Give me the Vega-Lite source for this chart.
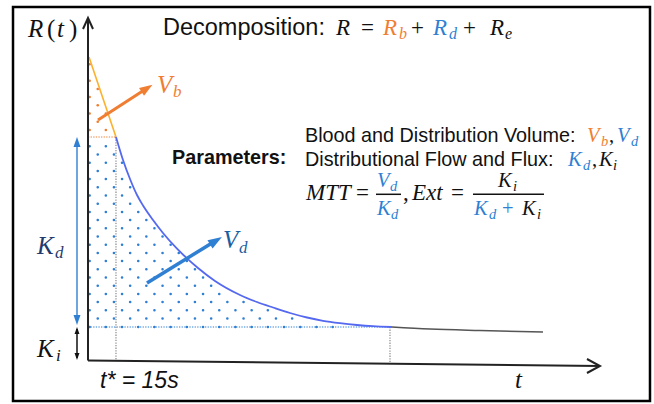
{
  "$schema": "https://vega.github.io/schema/vega-lite/v6.json",
  "width": 654,
  "height": 404,
  "autosize": {"type": "fit", "contains": "padding"},
  "padding": 0,
  "background": "white",
  "config": {"view": {"stroke": null}},
  "datasets": {
    "frame": [{"t": -39.16, "t2": 295.89, "R": 88.5, "R2": -10.0}],
    "dots": [
      {"R": 74.175, "t": 1.128, "t2": 1.6, "part": "blood"},
      {"R": 70.075, "t": 1.128, "t2": 4.49, "part": "blood"},
      {"R": 68.025, "t": 5.388, "t2": 5.97, "part": "blood"},
      {"R": 65.975, "t": 1.128, "t2": 7.39, "part": "blood"},
      {"R": 63.925, "t": 5.388, "t2": 8.86, "part": "blood"},
      {"R": 61.875, "t": 1.128, "t2": 10.33, "part": "blood"},
      {"R": 59.825, "t": 5.388, "t2": 11.75, "part": "blood"},
      {"R": 57.775, "t": 1.128, "t2": 13.22, "part": "blood"},
      {"R": 53.675, "t": 1.128, "t2": 15.96, "part": "dist"},
      {"R": 51.625, "t": 5.388, "t2": 17.27, "part": "dist"},
      {"R": 49.575, "t": 1.128, "t2": 18.75, "part": "dist"},
      {"R": 47.525, "t": 5.388, "t2": 20.27, "part": "dist"},
      {"R": 45.475, "t": 1.128, "t2": 21.85, "part": "dist"},
      {"R": 43.425, "t": 5.388, "t2": 23.69, "part": "dist"},
      {"R": 41.375, "t": 1.128, "t2": 25.53, "part": "dist"},
      {"R": 39.325, "t": 5.388, "t2": 28.16, "part": "dist"},
      {"R": 37.275, "t": 1.128, "t2": 31.11, "part": "dist"},
      {"R": 35.225, "t": 5.388, "t2": 34.0, "part": "dist"},
      {"R": 33.175, "t": 1.128, "t2": 37.32, "part": "dist"},
      {"R": 31.125, "t": 5.388, "t2": 41.05, "part": "dist"},
      {"R": 29.075, "t": 1.128, "t2": 45.36, "part": "dist"},
      {"R": 27.025, "t": 5.388, "t2": 49.41, "part": "dist"},
      {"R": 24.975, "t": 1.128, "t2": 53.62, "part": "dist"},
      {"R": 22.925, "t": 5.388, "t2": 58.51, "part": "dist"},
      {"R": 20.875, "t": 1.128, "t2": 64.14, "part": "dist"},
      {"R": 18.825, "t": 5.388, "t2": 70.98, "part": "dist"},
      {"R": 16.775, "t": 1.128, "t2": 74.98, "part": "dist"},
      {"R": 14.725, "t": 5.388, "t2": 85.5, "part": "dist"},
      {"R": 12.675, "t": 1.128, "t2": 99.17, "part": "dist"},
      {"R": 10.625, "t": 5.388, "t2": 111.79, "part": "dist"},
      {"R": 8.5, "t": 1.128, "t2": 132.83, "part": "dist"}
    ],
    "guides": [
      {"t": 0.29, "t2": 15.0, "R": 56.0, "R2": 56.0, "part": "blood"},
      {"t": 0.29, "t2": 160.18, "R": 8.5, "R2": 8.5, "part": "dist"},
      {"t": 15.0, "t2": 15.0, "R": 56.0, "R2": 0.125, "part": "grey"},
      {"t": 159.13, "t2": 159.13, "R": 8.5, "R2": -0.75, "part": "grey"}
    ],
    "shafts": [
      {"t": -5.5, "t2": -5.5, "R": 54.0, "R2": 11.0, "part": "dist", "kind": "Kd"},
      {"t": -5.5, "t2": -5.5, "R": 8.0, "R2": 0.75, "part": "black", "kind": "Ki"},
      {"t": 5.546, "t2": 30.27, "R": 60.25, "R2": 67.875, "part": "blood", "kind": "Vb"},
      {"t": 31.32, "t2": 65.51, "R": 19.5, "R2": 29.5, "part": "dist", "kind": "Vd"}
    ],
    "heads": [
      {"t": -5.5, "R": 54.75, "dir": 0, "kind": "Kd", "part": "dist"},
      {"t": -5.5, "R": 10.25, "dir": 180, "kind": "Kd", "part": "dist"},
      {"t": -5.5, "R": 7.625, "dir": 0, "kind": "Ki", "part": "black"},
      {"t": -5.5, "R": 1.125, "dir": 180, "kind": "Ki", "part": "black"},
      {"t": 31.32, "R": 68.175, "dir": 57, "kind": "Vb", "part": "blood"},
      {"t": 67.61, "R": 30.075, "dir": 58.5, "kind": "Vd", "part": "dist"}
    ],
    "axes": [
      {"path": "yaxis", "i": 0, "t": 0.29, "R": 0.125},
      {"path": "yaxis", "i": 1, "t": 0.29, "R": 85.75},
      {"path": "xaxis", "i": 0, "t": 0.29, "R": 0.125},
      {"path": "xaxis", "i": 1, "t": 269.59, "R": -1.25},
      {"path": "yhead", "i": 0, "t": -2.34, "R": 83.0},
      {"path": "yhead", "i": 1, "t": 0.29, "R": 85.75},
      {"path": "yhead", "i": 2, "t": 2.92, "R": 83.0},
      {"path": "xhead", "i": 0, "t": 262.75, "R": 0.5},
      {"path": "xhead", "i": 1, "t": 269.59, "R": -1.25},
      {"path": "xhead", "i": 2, "t": 262.75, "R": -3.0}
    ],
    "curve": [
      {"seg": "blood", "t": 0.81, "R": 76.0},
      {"seg": "blood", "t": 15.01, "R": 56.0},
      {"seg": "dist", "t": 15.01, "R": 56.0},
      {"seg": "dist", "t": 18.7, "R": 50.25},
      {"seg": "dist", "t": 22.38, "R": 45.5},
      {"seg": "dist", "t": 26.06, "R": 41.5},
      {"seg": "dist", "t": 29.22, "R": 38.875},
      {"seg": "dist", "t": 34.48, "R": 35.25},
      {"seg": "dist", "t": 39.73, "R": 32.0},
      {"seg": "dist", "t": 47.1, "R": 28.075},
      {"seg": "dist", "t": 52.36, "R": 25.65},
      {"seg": "dist", "t": 58.14, "R": 23.25},
      {"seg": "dist", "t": 67.09, "R": 20.0},
      {"seg": "dist", "t": 80.24, "R": 16.5},
      {"seg": "dist", "t": 89.18, "R": 14.75},
      {"seg": "dist", "t": 97.59, "R": 13.375},
      {"seg": "dist", "t": 106.53, "R": 12.0},
      {"seg": "dist", "t": 115.48, "R": 10.875},
      {"seg": "dist", "t": 123.89, "R": 10.05},
      {"seg": "dist", "t": 132.83, "R": 9.45},
      {"seg": "dist", "t": 141.77, "R": 9.0},
      {"seg": "dist", "t": 150.19, "R": 8.7},
      {"seg": "dist", "t": 160.18, "R": 8.5},
      {"seg": "ext", "t": 160.18, "R": 8.5},
      {"seg": "ext", "t": 180.17, "R": 8.0},
      {"seg": "ext", "t": 206.47, "R": 7.625},
      {"seg": "ext", "t": 239.61, "R": 7.25}
    ],
    "bars": [
      {"t": 151.77, "t2": 164.92, "R": 41.675},
      {"t": 202.79, "t2": 240.13, "R": 41.675}
    ],
    "math": [
      {"text": "R", "t": -31.27, "R": 81.0, "part": "black", "role": "label"},
      {"text": "t", "t": -16.02, "R": 81.0, "part": "black", "role": "label"},
      {"text": "R", "t": 130.73, "R": 81.5, "part": "black", "role": "math"},
      {"text": "R", "t": 155.45, "R": 81.5, "part": "blood", "role": "math"},
      {"text": "b", "t": 163.87, "R": 80.5, "part": "blood", "role": "mathsub"},
      {"text": "R", "t": 181.75, "R": 81.5, "part": "dist", "role": "math"},
      {"text": "d", "t": 190.17, "R": 80.5, "part": "dist", "role": "mathsub"},
      {"text": "R", "t": 211.73, "R": 81.5, "part": "black", "role": "math"},
      {"text": "e", "t": 219.62, "R": 80.5, "part": "black", "role": "mathsub"},
      {"text": "V", "t": 36.58, "R": 67.0, "part": "blood", "role": "label"},
      {"text": "b", "t": 44.99, "R": 66.0, "part": "blood", "role": "labelsub"},
      {"text": "K", "t": -26.54, "R": 26.75, "part": "kd", "role": "label"},
      {"text": "d", "t": -17.07, "R": 25.75, "part": "kd", "role": "labelsub"},
      {"text": "K", "t": -26.54, "R": 1.0, "part": "black", "role": "label"},
      {"text": "i", "t": -16.55, "R": 0.0, "part": "black", "role": "labelsub"},
      {"text": "V", "t": 71.29, "R": 28.25, "part": "vd", "role": "label"},
      {"text": "d", "t": 79.71, "R": 27.0, "part": "vd", "role": "labelsub"},
      {"text": "t", "t": 224.88, "R": -6.75, "part": "black", "role": "label"},
      {"text": "V", "t": 262.75, "R": 54.75, "part": "blood", "role": "inline"},
      {"text": "b", "t": 270.11, "R": 53.75, "part": "blood", "role": "inlinesub"},
      {"text": "V", "t": 278.53, "R": 54.75, "part": "dist", "role": "inline"},
      {"text": "d", "t": 285.89, "R": 53.75, "part": "dist", "role": "inlinesub"},
      {"text": "K", "t": 252.76, "R": 48.75, "part": "dist", "role": "inline"},
      {"text": "d", "t": 260.65, "R": 47.75, "part": "dist", "role": "inlinesub"},
      {"text": "K", "t": 269.06, "R": 48.75, "part": "black", "role": "inline"},
      {"text": "i", "t": 276.43, "R": 47.75, "part": "black", "role": "inlinesub"},
      {"text": "MTT", "t": 114.95, "R": 40.25, "part": "black", "role": "math"},
      {"text": "V", "t": 152.29, "R": 43.5, "part": "dist", "role": "inline"},
      {"text": "d", "t": 159.13, "R": 42.5, "part": "dist", "role": "inlinesub"},
      {"text": "K", "t": 152.29, "R": 36.5, "part": "dist", "role": "inline"},
      {"text": "d", "t": 159.66, "R": 35.5, "part": "dist", "role": "inlinesub"},
      {"text": "Ext", "t": 170.7, "R": 40.25, "part": "black", "role": "math"},
      {"text": "K", "t": 215.94, "R": 43.5, "part": "black", "role": "inline"},
      {"text": "i", "t": 223.83, "R": 42.5, "part": "black", "role": "inlinesub"},
      {"text": "K", "t": 203.31, "R": 36.5, "part": "dist", "role": "inline"},
      {"text": "d", "t": 211.2, "R": 35.5, "part": "dist", "role": "inlinesub"},
      {"text": "K", "t": 228.56, "R": 36.5, "part": "black", "role": "inline"},
      {"text": "i", "t": 236.45, "R": 35.5, "part": "black", "role": "inlinesub"}
    ],
    "ops": [
      {"text": "(", "t": -21.28, "R": 81.0, "part": "black", "role": "label"},
      {"text": ")", "t": -9.71, "R": 81.0, "part": "black", "role": "label"},
      {"text": "=", "t": 143.88, "R": 81.5, "part": "black", "role": "math"},
      {"text": "+", "t": 170.18, "R": 81.5, "part": "black", "role": "math"},
      {"text": "+", "t": 197.53, "R": 81.5, "part": "black", "role": "math"},
      {"text": "=", "t": 141.25, "R": 40.25, "part": "black", "role": "math"},
      {"text": ",", "t": 165.97, "R": 40.25, "part": "black", "role": "math"},
      {"text": "=", "t": 191.22, "R": 40.25, "part": "black", "role": "math"},
      {"text": "+", "t": 218.04, "R": 36.5, "part": "dist", "role": "inline"},
      {"text": ",", "t": 274.32, "R": 54.75, "part": "black", "role": "inline"},
      {"text": ",", "t": 265.38, "R": 48.75, "part": "black", "role": "inline"}
    ],
    "title": [{"text": "Decomposition:", "t": 39.73, "R": 81.5}],
    "body": [
      {"text": "Blood and Distribution Volume:", "t": 114.42, "R": 54.75},
      {"text": "Distributional Flow and Flux:", "t": 114.42, "R": 48.75}
    ],
    "heading": [{"text": "Parameters:", "t": 44.47, "R": 49.25}],
    "note": [{"text": "t* = 15s", "t": 6.6, "R": -6.75}]
  },
  "encoding": {
    "x": {"field": "t", "type": "quantitative", "scale": {"domain": [-46, 298], "nice": false, "zero": false}, "axis": null},
    "y": {"field": "R", "type": "quantitative", "scale": {"domain": [-10.75, 90.25], "nice": false, "zero": false}, "axis": null}
  },
  "resolve": {"scale": {"size": "independent", "strokeWidth": "independent", "angle": "independent"}},
  "layer": [
    {
      "data": {"name": "frame"},
      "mark": {"type": "rect", "filled": false, "stroke": "#000000", "strokeWidth": 2.5},
      "encoding": {"x2": {"field": "t2"}, "y2": {"field": "R2"}}
    },
    {
      "data": {"name": "dots"},
      "mark": {"type": "rule", "strokeDash": [0.1, 16.1], "strokeCap": "round", "strokeWidth": 2.5},
      "encoding": {
        "x2": {"field": "t2"},
        "color": {"field": "part", "type": "nominal", "legend": null,
          "scale": {"domain": ["black", "blood", "dist", "kd", "vd", "grey"], "range": ["#111111", "#f07e32", "#2f7fd3", "#1f3a6e", "#1b5fa0", "#8a8a8a"]}}
      }
    },
    {
      "data": {"name": "guides"},
      "mark": {"type": "rule", "strokeDash": [1.3, 1.3], "strokeWidth": 1.2},
      "encoding": {
        "x2": {"field": "t2"},
        "y2": {"field": "R2"},
        "color": {"field": "part", "type": "nominal", "legend": null,
          "scale": {"domain": ["black", "blood", "dist", "kd", "vd", "grey"], "range": ["#111111", "#f07e32", "#2f7fd3", "#1f3a6e", "#1b5fa0", "#8a8a8a"]}}
      }
    },
    {
      "data": {"name": "curve"},
      "transform": [{"filter": "datum.seg === 'blood'"}],
      "mark": {"type": "line", "color": "#fbb12e", "strokeWidth": 1.6},
      "encoding": {}
    },
    {
      "data": {"name": "curve"},
      "transform": [{"filter": "datum.seg === 'dist'"}],
      "mark": {"type": "line", "color": "#5468f0", "strokeWidth": 1.8, "interpolate": "monotone"},
      "encoding": {}
    },
    {
      "data": {"name": "curve"},
      "transform": [{"filter": "datum.seg === 'ext'"}],
      "mark": {"type": "line", "color": "#555555", "strokeWidth": 1.5, "interpolate": "monotone"},
      "encoding": {}
    },
    {
      "data": {"name": "axes"},
      "mark": {"type": "line", "color": "#222222", "strokeWidth": 2},
      "encoding": {
        "detail": {"field": "path", "type": "nominal"},
        "order": {"field": "i", "type": "quantitative"}
      }
    },
    {
      "data": {"name": "shafts"},
      "mark": {"type": "rule"},
      "encoding": {
        "x2": {"field": "t2"},
        "y2": {"field": "R2"},
        "strokeWidth": {"field": "kind", "type": "nominal", "legend": null, "scale": {"type": "ordinal", "domain": ["Kd", "Ki", "Vb", "Vd"], "range": [1.4, 1.5, 3, 3.5]}},
        "color": {"field": "part", "type": "nominal", "legend": null,
          "scale": {"domain": ["black", "blood", "dist", "kd", "vd", "grey"], "range": ["#111111", "#f07e32", "#2f7fd3", "#1f3a6e", "#1b5fa0", "#8a8a8a"]}}
      }
    },
    {
      "data": {"name": "heads"},
      "mark": {"type": "point", "filled": true, "opacity": 1, "shape": "M0,-1L0.7,1L-0.7,1Z", "strokeWidth": 0},
      "encoding": {
        "angle": {"field": "dir", "type": "quantitative", "scale": null},
        "size": {"field": "kind", "type": "nominal", "legend": null, "scale": {"type": "ordinal", "domain": ["Ki", "Kd", "Vb", "Vd"], "range": [49, 100, 169, 196]}},
        "color": {"field": "part", "type": "nominal", "legend": null,
          "scale": {"domain": ["black", "blood", "dist", "kd", "vd", "grey"], "range": ["#111111", "#f07e32", "#2f7fd3", "#1f3a6e", "#1b5fa0", "#8a8a8a"]}}
      }
    },
    {
      "data": {"name": "bars"},
      "mark": {"type": "rule", "color": "#111111", "strokeWidth": 1.5},
      "encoding": {"x2": {"field": "t2"}}
    },
    {
      "data": {"name": "math"},
      "mark": {"type": "text", "align": "left", "baseline": "alphabetic", "font": "Liberation Serif", "fontStyle": "italic"},
      "encoding": {
        "text": {"field": "text"},
        "size": {"field": "role", "type": "nominal", "legend": null, "scale": {"type": "ordinal", "domain": ["label", "labelsub", "math", "mathsub", "inline", "inlinesub"], "range": [25, 17, 23, 16, 20.5, 14.5]}},
        "color": {"field": "part", "type": "nominal", "legend": null,
          "scale": {"domain": ["black", "blood", "dist", "kd", "vd", "grey"], "range": ["#111111", "#f07e32", "#2f7fd3", "#1f3a6e", "#1b5fa0", "#8a8a8a"]}}
      }
    },
    {
      "data": {"name": "ops"},
      "mark": {"type": "text", "align": "left", "baseline": "alphabetic", "font": "Liberation Serif"},
      "encoding": {
        "text": {"field": "text"},
        "size": {"field": "role", "type": "nominal", "legend": null, "scale": {"type": "ordinal", "domain": ["label", "labelsub", "math", "mathsub", "inline", "inlinesub"], "range": [25, 17, 23, 16, 20.5, 14.5]}},
        "color": {"field": "part", "type": "nominal", "legend": null,
          "scale": {"domain": ["black", "blood", "dist", "kd", "vd", "grey"], "range": ["#111111", "#f07e32", "#2f7fd3", "#1f3a6e", "#1b5fa0", "#8a8a8a"]}}
      }
    },
    {
      "data": {"name": "title"},
      "mark": {"type": "text", "align": "left", "baseline": "alphabetic", "font": "Liberation Sans", "fontSize": 23.5, "color": "#111111"},
      "encoding": {"text": {"field": "text"}}
    },
    {
      "data": {"name": "body"},
      "mark": {"type": "text", "align": "left", "baseline": "alphabetic", "font": "Liberation Sans", "fontSize": 19.8, "color": "#111111"},
      "encoding": {"text": {"field": "text"}}
    },
    {
      "data": {"name": "heading"},
      "mark": {"type": "text", "align": "left", "baseline": "alphabetic", "font": "Liberation Sans", "fontSize": 19.8, "fontWeight": "bold", "color": "#111111"},
      "encoding": {"text": {"field": "text"}}
    },
    {
      "data": {"name": "note"},
      "mark": {"type": "text", "align": "left", "baseline": "alphabetic", "font": "Liberation Sans", "fontSize": 23, "fontStyle": "italic", "color": "#111111"},
      "encoding": {"text": {"field": "text"}}
    }
  ]
}
